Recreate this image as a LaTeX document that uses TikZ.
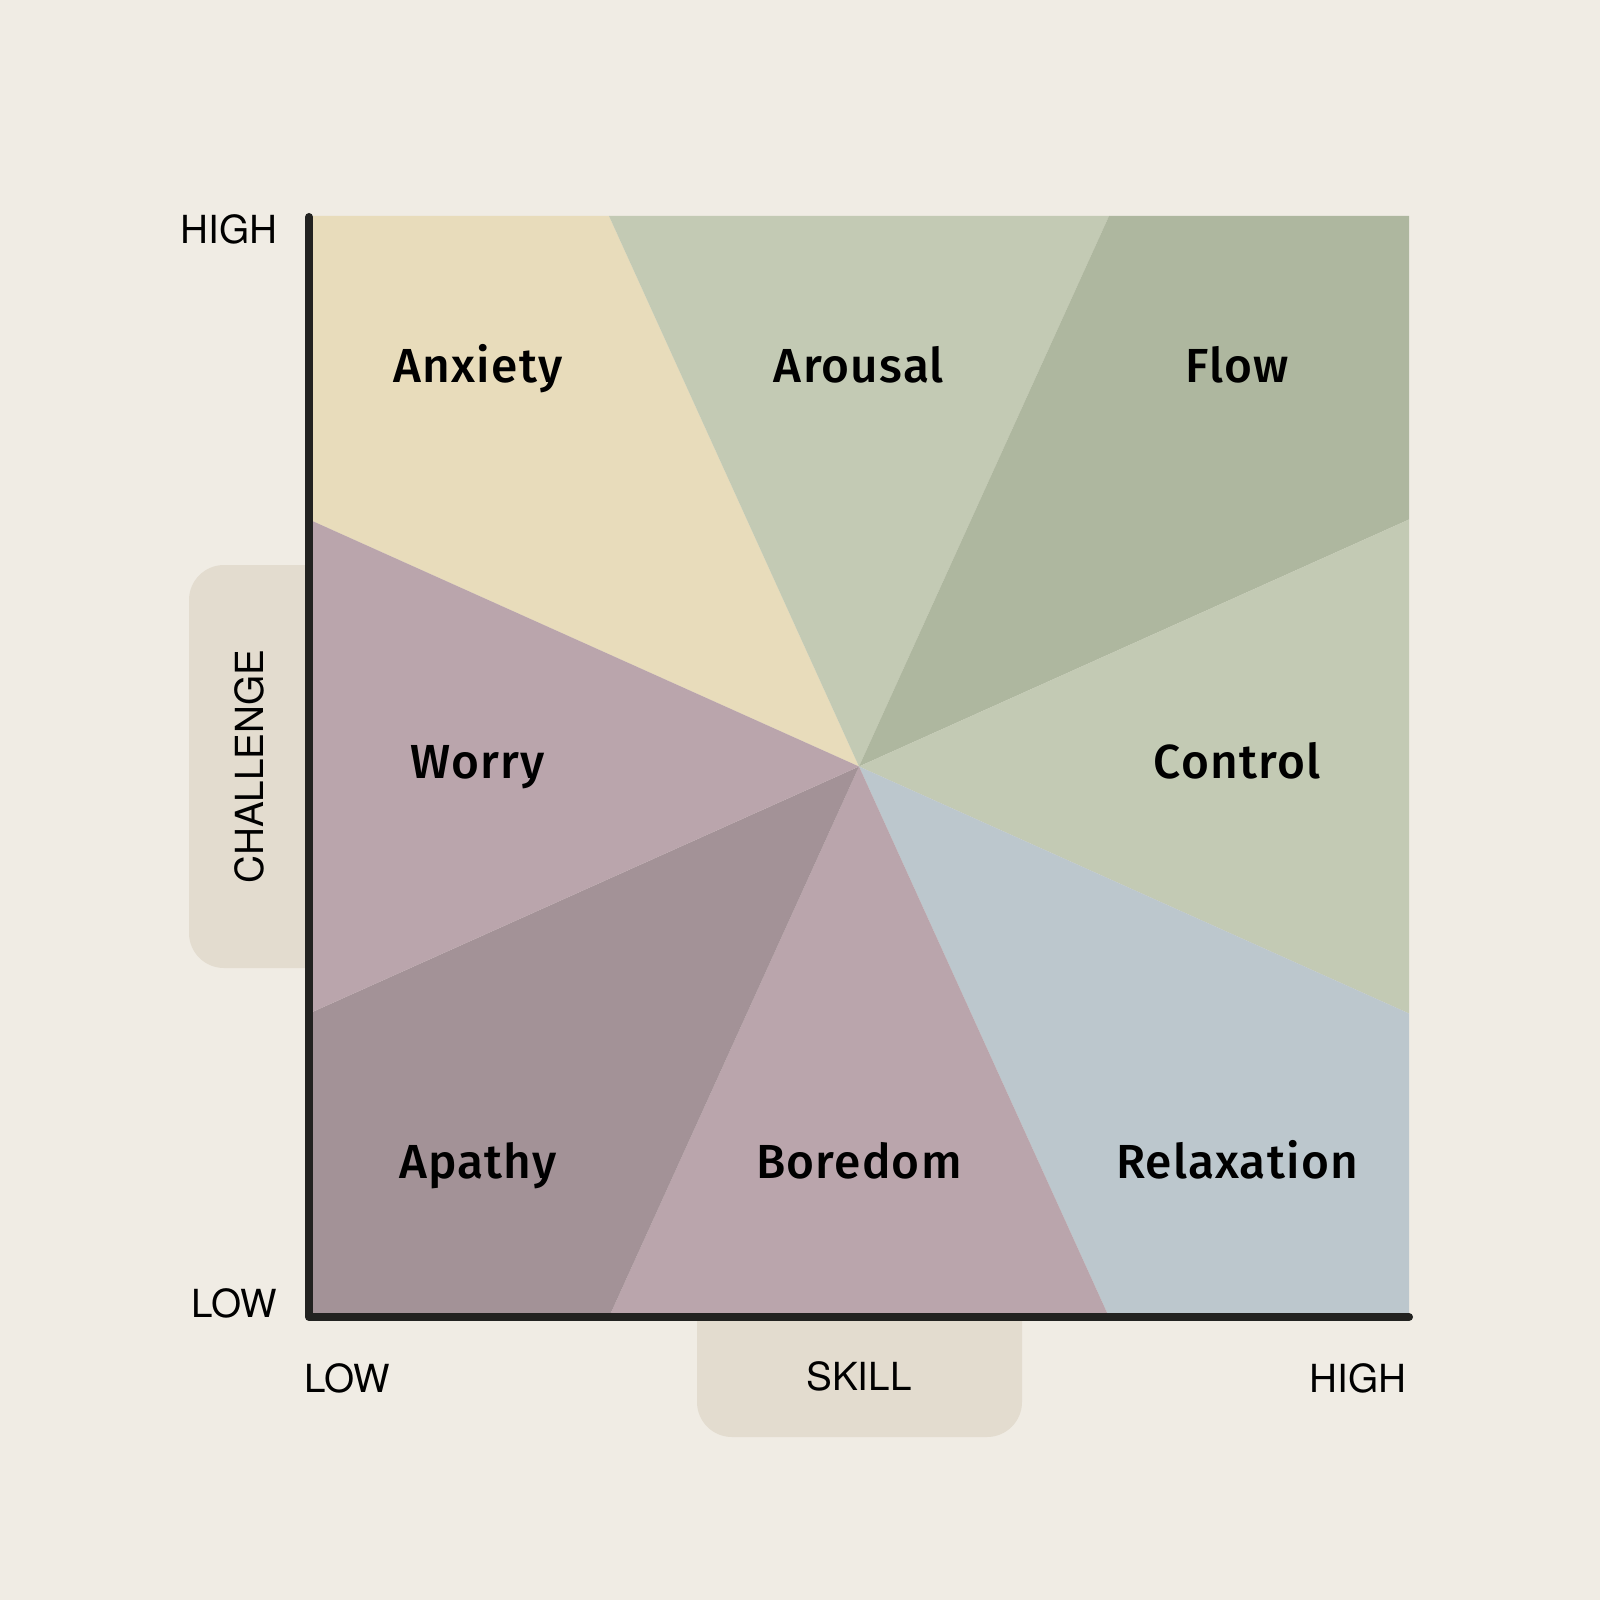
\documentclass[tikz,border=0pt]{standalone}
\usepackage{fontspec}
\setmainfont{TeX Gyre Heros}
\newfontfamily\zonefont[LetterSpace=2.5]{Fira Sans Medium}

\definecolor{fond}{HTML}{F0ECE4}
\definecolor{cartouche}{HTML}{E3DCCF}
\definecolor{beige}{HTML}{E8DCBB}
\definecolor{vertclair}{HTML}{C3CAB4}
\definecolor{vertfonce}{HTML}{AEB79F}
\definecolor{bleugris}{HTML}{BCC7CD}
\definecolor{mauve}{HTML}{BAA5AC}
\definecolor{mauvefonce}{HTML}{A39297}
\definecolor{axe}{HTML}{222220}

\begin{document}
\begin{tikzpicture}[x=0.01cm, y=-0.01cm,
    zone/.style={font=\zonefont\fontsize{13.6}{16}\selectfont, anchor=base, inner sep=0pt},
    repere/.style={font=\fontsize{11}{14}\selectfont, inner sep=0pt}]
    % Fond et cartouches des axes
    \fill[fond] (0,0) rectangle (1600,1600);
    \fill[cartouche, rounded corners=0.35cm] (189,565) rectangle (340,968);
    \fill[cartouche, rounded corners=0.35cm] (697,1280) rectangle (1022,1437);

    % Coins, centre et points de partage des bords
    \coordinate (C) at (859,766.5);
    \coordinate (tl) at (309,216);  \coordinate (tr) at (1409,216);
    \coordinate (bl) at (309,1317); \coordinate (br) at (1409,1317);
    \coordinate (t1) at (609,216);  \coordinate (t2) at (1109,216);
    \coordinate (b1) at (609,1317); \coordinate (b2) at (1109,1317);
    \coordinate (l1) at (309,519.5); \coordinate (l2) at (309,1013.5);
    \coordinate (r1) at (1409,519.5); \coordinate (r2) at (1409,1013.5);

    % Les huit secteurs
    \fill[beige] (tl) -- (t1) -- (C) -- (l1) -- cycle;
    \fill[vertclair] (t1) -- (t2) -- (C) -- cycle;
    \fill[vertfonce] (t2) -- (tr) -- (r1) -- (C) -- cycle;
    \fill[vertclair] (r1) -- (r2) -- (C) -- cycle;
    \fill[bleugris] (r2) -- (br) -- (b2) -- (C) -- cycle;
    \fill[mauve] (b2) -- (b1) -- (C) -- cycle;
    \fill[mauvefonce] (b1) -- (bl) -- (l2) -- (C) -- cycle;
    \fill[mauve] (l2) -- (l1) -- (C) -- cycle;

    % Axes
    \draw[axe, line width=0.08cm, line cap=round, line join=round] (309,217) -- (bl) -- (br);

    % Noms des secteurs
    \node[zone] (anxiety) at (478,382) {Anxiety};
    \node[zone] (arousal) at (859,382) {Arousal};
    \node[zone] (flow) at (1237,382) {Flow};
    \node[zone] (worry) at (478,778) {Worry};
    \node[zone] (control) at (1237,778) {Control};
    \node[zone] (apathy) at (478,1178) {Apathy};
    \node[zone] (boredom) at (859,1178) {Boredom};
    \node[zone] (relaxation) at (1237,1178) {Relaxation};

    % Reperes des axes
    \node[repere, anchor=base east] (chaut) at (278,244) {HIGH};
    \node[repere, anchor=base east] (cbas) at (278,1317) {LOW};
    \node[repere, anchor=base west] (sbas) at (304,1392) {LOW};
    \node[repere, anchor=base east] (shaut) at (1407,1392) {HIGH};
    \node[repere, anchor=base] (skill) at (859,1390) {SKILL};
    \node[repere, anchor=base, rotate=90] (challenge) at (263,766.5) {CHALLENGE};
\end{tikzpicture}
\end{document}
